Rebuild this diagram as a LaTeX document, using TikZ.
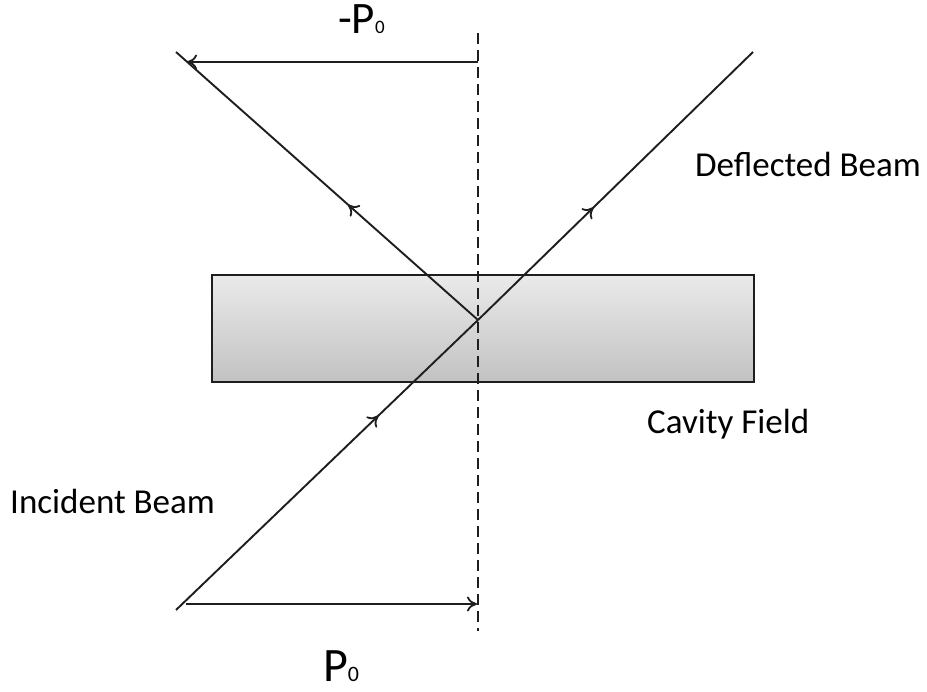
\documentclass[tikz,border=0pt]{standalone}
\usepackage{fontspec}
\setmainfont{Carlito}
\usetikzlibrary{arrows.meta,decorations.markings}
\definecolor{boxtop}{HTML}{EAEAEA}
\definecolor{boxbot}{HTML}{C2C2C2}
\definecolor{linec}{HTML}{1E1E1E}
\tikzset{beamtip/.tip={To[length=10pt,width=15pt,line width=1.8pt]}}
\begin{document}
\begin{tikzpicture}[x=1pt,y=-1pt,
  beam/.style={draw=linec,line width=1.9pt},
  tip/.style={-beamtip},
  midarrow/.style={postaction={decorate},decoration={markings,
     mark=at position #1 with {\arrow{beamtip}}}},
  lbl/.style={inner sep=0pt,anchor=base west,font=\fontsize{35}{35}\selectfont},
  plbl/.style={inner sep=0pt,anchor=base west}]
\useasboundingbox (0,0) rectangle (927,692);
% cavity box
\node[draw=linec,line width=1.9pt,top color=boxtop,bottom color=boxbot,
  minimum width=542pt,minimum height=107pt,inner sep=0pt,anchor=north west]
  (cavity) at (211,274) {};
% dashed axis
\coordinate (dtop) at (478,33);
\coordinate (dbot) at (478,631);
\draw[linec,line width=1.7pt,dash pattern=on 11pt off 6pt] (dtop) -- (dbot);
% beams
\coordinate (inc) at (176,610);
\coordinate (x) at (478,320);
\coordinate (defl) at (753,52);
\coordinate (refl) at (176,52);
\draw[beam,midarrow=0.67] (inc) -- (x);
\draw[beam,midarrow=0.42] (x) -- (defl);
\draw[beam,midarrow=0.43] (x) -- (refl);
% momentum arrows
\coordinate (ts) at (478,62);
\coordinate (te) at (187,62);
\coordinate (bs) at (186,604);
\coordinate (be) at (477,604);
\draw[beam,line width=1.7pt,tip] (ts) -- (te);
\draw[beam,line width=1.7pt,tip] (bs) -- (be);
% labels
\node[plbl] (mp) at (338,34) {{\fontsize{45}{45}\selectfont -P}{\fontsize{19}{19}\selectfont 0}};
\node[plbl] (pp) at (323,681) {{\fontsize{48}{48}\selectfont P}{\fontsize{22}{22}\selectfont 0}};
\node[lbl] (dl) at (695,177) {Deflected Beam};
\node[lbl] (cl) at (647,434) {Cavity Field};
\node[lbl] (il) at (10,514) {Incident Beam};
\end{tikzpicture}
\end{document}
